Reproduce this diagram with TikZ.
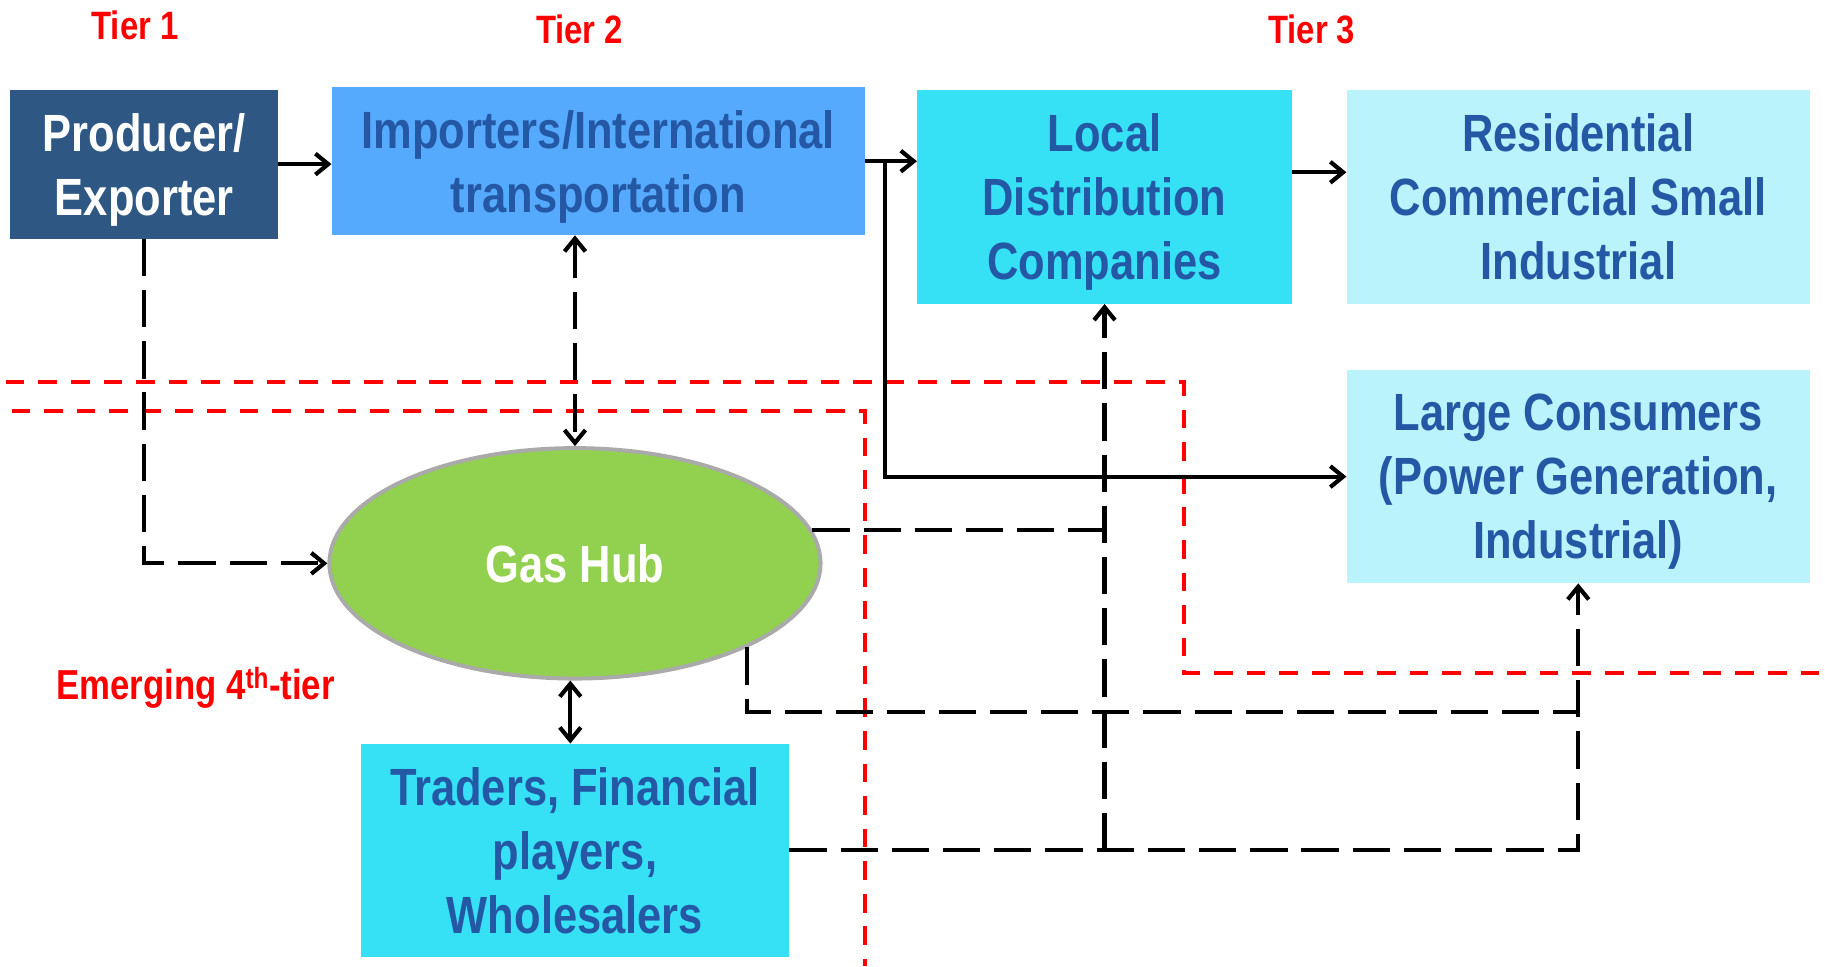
\documentclass[tikz,border=0pt]{standalone}
\usepackage{fontspec}
\setmainfont{Liberation Sans}[FakeStretch=0.83]
\usetikzlibrary{arrows.meta,shapes.geometric,calc}
\definecolor{prodblue}{RGB}{46,88,131}
\definecolor{impblue}{RGB}{85,170,253}
\definecolor{cyanbox}{RGB}{54,224,245}
\definecolor{lightcyan}{RGB}{186,243,251}
\definecolor{hubgreen}{RGB}{146,208,80}
\definecolor{hubborder}{RGB}{170,170,170}
\definecolor{txtblue}{RGB}{36,88,165}
\begin{document}
\begin{tikzpicture}[x=1pt,y=-1pt,
  >={Straight Barb[length=11pt,width=18pt]},
  box/.style={rectangle, inner sep=0pt, align=center, text depth=0pt,
    font=\fontsize{45}{55}\selectfont\bfseries, text=txtblue},
  tierlbl/.style={text=red, inner sep=0pt, font=\fontsize{34}{40}\selectfont\bfseries},
  solidconn/.style={line width=3.6pt, draw=black},
  dashconn/.style={line width=3.6pt, draw=black, dash pattern=on 32pt off 12pt},
  reddash/.style={line width=3.6pt, draw=red, dash pattern=on 16pt off 12pt},
]
\useasboundingbox (0,0) rectangle (1568,830);

% nodes
\node[box, fill=prodblue, text=white, minimum width=230pt, minimum height=128pt] (prod) at (124,141) {Producer/\\Exporter};
\node[box, fill=impblue, minimum width=458pt, minimum height=127pt] (imp) at (514,138.5) {Importers/International\\transportation};
\node[box, fill=cyanbox, minimum width=322pt, minimum height=184pt] (ldc) at (949,169) {Local\\Distribution\\Companies};
\node[box, fill=lightcyan, minimum width=398pt, minimum height=184pt] (res) at (1356,169) {Residential\\Commercial Small\\Industrial};
\node[box, fill=lightcyan, minimum width=398pt, minimum height=183pt] (large) at (1356,409.5) {Large Consumers\\(Power Generation,\\Industrial)};
\node[box, fill=cyanbox, minimum width=368pt, minimum height=183pt] (trad) at (494,730.5) {Traders, Financial\\players,\\Wholesalers};
\node[ellipse, draw=hubborder, line width=3.4pt, fill=hubgreen, inner sep=0pt,
  minimum width=422pt, minimum height=198pt, text=white, text depth=0pt,
  font=\fontsize{45}{55}\selectfont\bfseries] (hub) at (494,484) {Gas Hub};

\node[tierlbl] (t1) at (116,22) {Tier 1};
\node[tierlbl] (t2) at (498,25) {Tier 2};
\node[tierlbl] (t3) at (1127,25) {Tier 3};
\node[tierlbl, font=\fontsize{36}{40}\selectfont\bfseries] (em) at (168,591) {Emerging 4\textsuperscript{th}-tier};

% red tier boundaries
\draw[reddash] (5,328) -- (1017,328) -- (1017,578) -- (1568,578);
\draw[reddash] (10,353) -- (743,353) -- (743,830);

% solid connectors
\draw[solidconn, ->] (prod.east) -- (prod.east -| imp.west);
\coordinate (split) at ($(imp.east)+(17,0)$);
\draw[solidconn, ->] (imp.east) -- (imp.east -| ldc.west);
\draw[solidconn, ->] (split) |- (large.west);
\coordinate (ldcout) at ($(ldc.east)+(0,-21)$);
\draw[solidconn, ->] (ldcout) -- (ldcout -| res.west);
\coordinate (hubbot) at ($(hub.south)+(-4,0)$);
\draw[solidconn, <->] (hubbot) -- (hubbot |- trad.north);

% dashed connectors
\draw[dashconn, <->] (imp.south -| hub.north) -- (hub.north);
\draw[dashconn, ->] (prod.south) |- (hub.west);
\draw[dashconn] (hub.8) -- (hub.8 -| ldc.south);
\coordinate (y612) at (0,612);
\draw[dashconn] (hub.-26) |- (large.south |- y612);
\draw[dashconn, ->] (trad.east) -| (large.south);
\draw[dashconn, ->] (trad.east -| ldc.south) -- (ldc.south);
\end{tikzpicture}
\end{document}
